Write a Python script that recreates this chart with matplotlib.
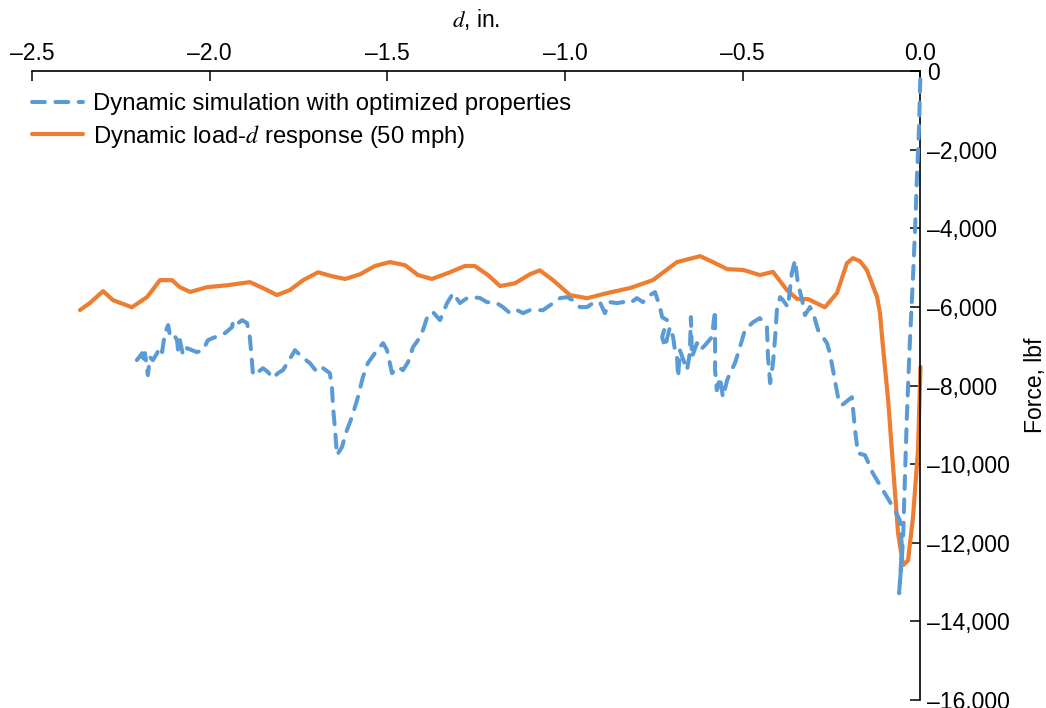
import numpy as np
import matplotlib.pyplot as plt
from matplotlib.ticker import FuncFormatter, MultipleLocator

plt.rcParams['font.family'] = ['Liberation Sans', 'DejaVu Sans']
plt.rcParams['mathtext.fontset'] = 'stix'

# Dynamic simulation with optimized properties (d in inches, force in lbf)
sim_d = [-2.205, -2.190, -2.188, -2.182, -2.174, -2.168, -2.160, -2.148, -2.140, -2.134,
         -2.126, -2.117, -2.112, -2.103, -2.092, -2.089, -2.084, -2.075, -2.064, -2.050,
         -2.036, -2.019, -2.005, -1.985, -1.957, -1.937, -1.934, -1.920, -1.909, -1.895,
         -1.887, -1.881, -1.878, -1.864, -1.850, -1.836, -1.822, -1.808, -1.794, -1.780,
         -1.760, -1.740, -1.718, -1.698, -1.681, -1.662, -1.656, -1.653, -1.647, -1.642,
         -1.628, -1.614, -1.600, -1.583, -1.569, -1.555, -1.529, -1.512, -1.501, -1.493,
         -1.487, -1.470, -1.456, -1.442, -1.428, -1.414, -1.400, -1.386, -1.372, -1.352,
         -1.332, -1.315, -1.296, -1.276, -1.259, -1.239, -1.220, -1.192, -1.175, -1.155,
         -1.135, -1.118, -1.099, -1.079, -1.062, -1.034, -1.014, -0.995, -0.978, -0.958,
         -0.938, -0.922, -0.902, -0.888, -0.874, -0.854, -0.837, -0.817, -0.798, -0.781,
         -0.761, -0.747, -0.733, -0.727, -0.713, -0.727, -0.719, -0.705, -0.696, -0.691,
         -0.685, -0.682, -0.677, -0.657, -0.649, -0.646, -0.643, -0.629, -0.620, -0.606,
         -0.587, -0.578, -0.578, -0.573, -0.564, -0.556, -0.544, -0.536, -0.522, -0.508,
         -0.494, -0.471, -0.452, -0.432, -0.429, -0.423, -0.415, -0.409, -0.404, -0.395,
         -0.387, -0.373, -0.362, -0.353, -0.345, -0.333, -0.325, -0.311, -0.302, -0.288,
         -0.263, -0.255, -0.241, -0.232, -0.221, -0.193, -0.184, -0.176, -0.156, -0.134,
         -0.094, -0.072, -0.058, -0.052, -0.060, -0.049, -0.044, -0.038, -0.030, -0.021,
         -0.015, -0.010, -0.004, 0.0]
sim_f = [-7355, -7177, -7431, -7177, -7737, -7279, -7355, -7177, -7024, -7151,
         -6668, -6464, -6719, -6668, -6846, -7101, -6846, -7228, -7050, -7101,
         -7151, -7101, -6846, -6770, -6668, -6515, -6337, -6413, -6337, -6413,
         -6770, -7431, -7737, -7660, -7559, -7660, -7813, -7686, -7610, -7406,
         -7101, -7279, -7431, -7660, -7559, -7686, -8042, -8551, -9137, -9773,
         -9569, -9137, -8806, -8297, -7788, -7431, -7101, -6922, -7101, -7431,
         -7686, -7533, -7610, -7406, -7024, -6846, -6592, -6210, -6133, -6337,
         -5904, -5650, -5904, -5777, -5752, -5777, -5879, -5904, -6006, -6159,
         -6083, -6159, -6083, -6083, -6083, -5904, -5777, -5752, -5828, -6006,
         -6006, -5904, -5879, -6159, -5879, -5904, -5879, -5904, -5777, -5879,
         -5701, -5624, -6006, -6261, -6337, -6770, -7024, -6515, -6770, -7101,
         -7279, -7788, -7101, -7610, -7177, -6261, -7279, -6922, -7101, -6973,
         -6770, -6083, -7610, -8119, -7788, -8297, -7864, -7686, -7431, -7024,
         -6592, -6388, -6286, -6515, -7279, -7940, -7431, -6770, -6083, -5752,
         -5828, -6006, -5141, -4810, -5395, -5828, -6210, -6006, -6159, -6592,
         -6922, -7177, -7864, -8297, -8500, -8297, -9137, -9722, -9773, -10231,
         -10842, -11173, -11427, -12114, -13285, -11936, -10409, -8704, -6922, -5243,
         -3970, -2698, -1425, 0]

# Dynamic load-d response (50 mph)
resp_d = [-2.365, -2.337, -2.300, -2.272, -2.219, -2.176, -2.140, -2.106, -2.084, -2.055,
          -2.008, -1.951, -1.887, -1.839, -1.811, -1.774, -1.737, -1.695, -1.656, -1.619,
          -1.577, -1.535, -1.493, -1.450, -1.414, -1.375, -1.324, -1.282, -1.254, -1.217,
          -1.183, -1.141, -1.099, -1.071, -1.034, -0.986, -0.938, -0.882, -0.817, -0.753,
          -0.685, -0.620, -0.584, -0.544, -0.499, -0.452, -0.415, -0.376, -0.347, -0.317,
          -0.269, -0.235, -0.207, -0.190, -0.170, -0.151, -0.122, -0.114, -0.106, -0.091,
          -0.077, -0.063, -0.049, -0.035, -0.021, -0.007, 0.0]
resp_f = [-6080, -5900, -5600, -5830, -6010, -5750, -5320, -5320, -5500, -5620,
          -5500, -5450, -5370, -5570, -5700, -5570, -5320, -5120, -5220, -5290,
          -5170, -4960, -4860, -4940, -5190, -5290, -5120, -4960, -4960, -5190,
          -5470, -5400, -5170, -5070, -5320, -5700, -5780, -5650, -5520, -5320,
          -4860, -4710, -4860, -5040, -5060, -5190, -5110, -5570, -5800, -5800,
          -6010, -5650, -4890, -4760, -4840, -5060, -5750, -6160, -6970, -8370,
          -10080, -11760, -12570, -12450, -11350, -9650, -7530]

blue = '#5B9BD5'
orange = '#ED7D31'

fig = plt.figure(figsize=(10.46, 7.08), dpi=100)
ax = fig.add_axes([0.0306, 0.0113, 0.8494, 0.8884])

ax.plot(resp_d, resp_f, color=orange, lw=3.0, zorder=2, clip_on=False,
        solid_joinstyle='round', solid_capstyle='round',
        label='Dynamic load-$d$ response (50 mph)')
ax.plot(sim_d, sim_f, color=blue, lw=2.9, linestyle=(0, (3.2, 2.6)),
        dash_capstyle='round', dash_joinstyle='round', zorder=3, clip_on=False,
        label='Dynamic simulation with optimized properties')

ax.set_xlim(-2.5, 0)
ax.set_ylim(-16000, 0)

for s in ['left', 'bottom']:
    ax.spines[s].set_visible(False)
for s in ['top', 'right']:
    ax.spines[s].set_linewidth(1.2)

ax.xaxis.tick_top()
ax.xaxis.set_label_position('top')
ax.yaxis.tick_right()
ax.yaxis.set_label_position('right')
ax.xaxis.set_major_locator(MultipleLocator(0.5))
ax.yaxis.set_major_locator(MultipleLocator(2000))


def fmt_x(v, pos):
    s = '%.1f' % abs(v)
    return ('\u2013' + s) if v < -1e-9 else s


def fmt_y(v, pos):
    s = '{:,.0f}'.format(abs(v))
    return ('\u2013' + s) if v < -1e-9 else s


ax.xaxis.set_major_formatter(FuncFormatter(fmt_x))
ax.yaxis.set_major_formatter(FuncFormatter(fmt_y))
ax.tick_params(axis='both', direction='in', length=7, width=1.1, labelsize=16.5,
               color='black')
ax.tick_params(axis='x', pad=4)
ax.tick_params(axis='y', pad=5)

ax.set_xlabel('$d$, in.', fontsize=16.5, labelpad=11)
ax.set_ylabel('Force, lbf', fontsize=16.5, labelpad=10)

h, l = ax.get_legend_handles_labels()
ax.legend(h[::-1], l[::-1], loc='upper left', bbox_to_anchor=(-0.005, 0.972),
          frameon=False, fontsize=17.2, handlelength=2.1, handletextpad=0.45,
          borderaxespad=0, borderpad=0.2, labelspacing=0.3)

fig.savefig('out.png', dpi=100)
